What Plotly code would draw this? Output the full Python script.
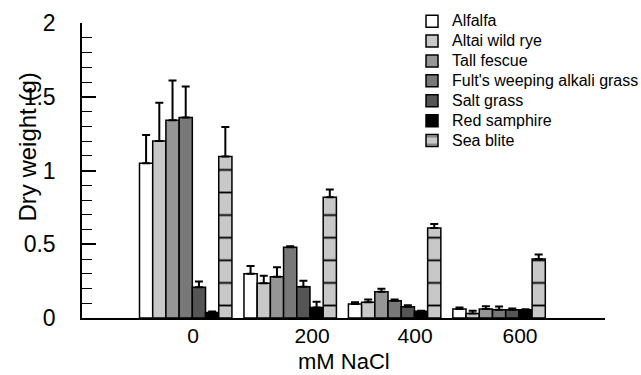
import plotly.graph_objects as go

groups = ["0", "200", "400", "600"]
species = ["Alfalfa", "Altai wild rye", "Tall fescue", "Fult's weeping alkali grass",
           "Salt grass", "Red samphire", "Sea blite"]

alfalfa = [1.05, 0.30, 0.095, 0.061]
altai = [1.20, 0.235, 0.106, 0.031]
tall_fescue = [1.34, 0.28, 0.178, 0.061]
fults = [1.36, 0.479, 0.117, 0.056]
salt_grass = [0.208, 0.212, 0.077, 0.056]
red_samphire = [0.038, 0.072, 0.045, 0.056]
sea_blite = [1.095, 0.819, 0.611, 0.40]

alfalfa_err = [0.19, 0.052, 0.011, 0.011]
altai_err = [0.26, 0.052, 0.02, 0.018]
tall_fescue_err = [0.27, 0.064, 0.021, 0.018]
fults_err = [0.21, 0.007, 0.009, 0.022]
salt_grass_err = [0.04, 0.041, 0.009, 0.008]
red_samphire_err = [0.006, 0.038, 0.004, 0.004]
sea_blite_err = [0.20, 0.052, 0.027, 0.03]

values = [alfalfa, altai, tall_fescue, fults, salt_grass, red_samphire, sea_blite]
errors = [alfalfa_err, altai_err, tall_fescue_err, fults_err, salt_grass_err,
          red_samphire_err, sea_blite_err]
colors = ["#ffffff", "#c8c8c8", "#969696", "#787878", "#555555", "#000000", "#c8c8c8"]

FONT = "Liberation Sans, Arial, Helvetica, sans-serif"
x_pos = list(range(len(groups)))
tick_offsets = [0.07, 0.21, 0.196, 0.2]

fig = go.Figure()
for name, vals, errs, col in zip(species, values, errors, colors):
    marker = dict(color=col, line=dict(color="black", width=1.5))
    if name == "Sea blite":
        marker["pattern"] = dict(shape="-", fgcolor="black", bgcolor=col,
                                 size=22.6, solidity=0.08, fillmode="replace")
    fig.add_trace(go.Bar(
        x=x_pos, y=vals, name='<span style="font-size:16px">' + name + '</span>',
        marker=marker,
        error_y=dict(type="data", array=errs, arrayminus=[0] * len(errs),
                     symmetric=False, color="black", thickness=2, width=4),
    ))

fig.update_layout(
    width=641, height=375,
    margin=dict(l=82, r=36, t=23, b=57, autoexpand=False),
    paper_bgcolor="white", plot_bgcolor="white",
    barmode="group", bargap=0.115, bargroupgap=0,
    font=dict(family=FONT, color="black"),
    showlegend=True,
    legend=dict(x=0.631, y=1.057, xanchor="left", yanchor="top",
                font=dict(size=13, family=FONT), bgcolor="rgba(0,0,0,0)",
                itemclick=False),
    xaxis=dict(range=[-0.993, 4.014], showgrid=False, zeroline=False,
               showline=True, linecolor="black", linewidth=1.5,
               ticks="", tickvals=[i + o for i, o in zip(x_pos, tick_offsets)],
               ticktext=groups, tickfont=dict(size=21), ticklabelstandoff=-2),
    yaxis=dict(range=[0, 2], showgrid=False, zeroline=False,
               showline=True, linecolor="black", linewidth=1.5,
               ticks="inside", ticklen=14, tickwidth=1.5, tickcolor="black",
               dtick=0.5, tick0=0, tickfont=dict(size=23), ticklabelstandoff=20,
               minor=dict(dtick=0.1, ticks="inside", ticklen=10, tickwidth=1.2,
                          tickcolor="black")),
    annotations=[
        dict(text="Dry weight (g)", textangle=-90, xref="paper", yref="paper",
             x=-0.105, y=0.578, xanchor="center", yanchor="middle",
             showarrow=False, font=dict(size=24, family=FONT)),
        dict(text="mM NaCl", xref="paper", yref="paper", x=0.501, y=-0.149,
             xanchor="center", yanchor="middle", showarrow=False, borderpad=0,
             font=dict(size=22, family=FONT)),
    ],
)

fig.write_html("out.html")
